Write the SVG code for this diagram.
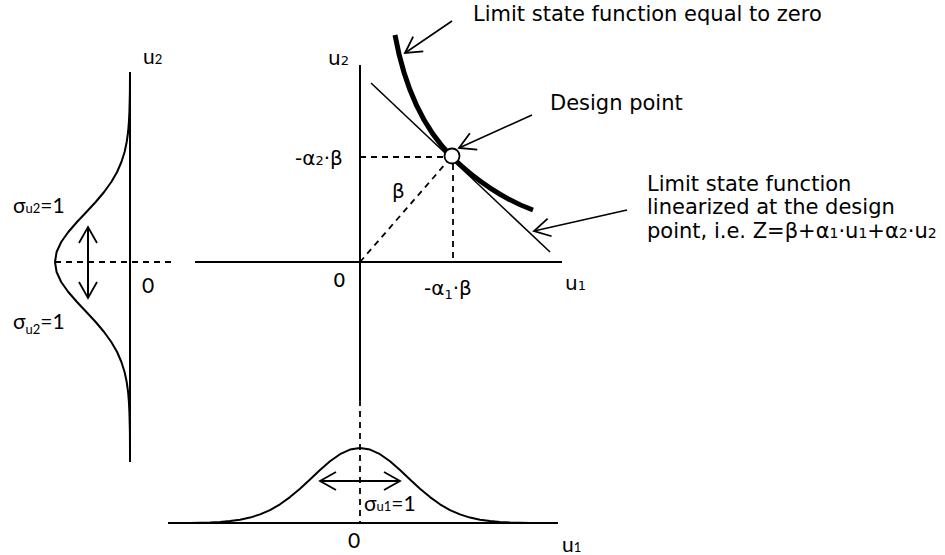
<svg xmlns="http://www.w3.org/2000/svg" width="945" height="555" viewBox="0 0 945 555">
<style>
.t{font-family:"DejaVu Sans",Verdana,sans-serif;font-size:21px;fill:#000}
.m{font-family:"DejaVu Sans",Verdana,sans-serif;font-size:20px;fill:#000}
.c{font-family:Lato,"Open Sans",sans-serif;font-size:21px;fill:#000}
.s{font-size:13px}
.ps{font-size:14px}
.ax{stroke:#000;stroke-width:2;fill:none}
.crv{stroke:#000;stroke-width:2;fill:none;stroke-linejoin:round}
.thin{stroke:#000;stroke-width:1.6;fill:none}
.dash{stroke:#000;stroke-width:1.8;fill:none;stroke-dasharray:6 5}
</style>
<defs>
<marker id="ah" viewBox="-20 -11 22 22" refX="0" refY="0" markerWidth="22" markerHeight="22" markerUnits="userSpaceOnUse" orient="auto-start-reverse">
<path d="M-16,-9 L0,0 L-16,9" fill="none" stroke="#000" stroke-width="1.8"/>
</marker>
</defs>
<rect width="945" height="555" fill="#fff"/>
<g id="connectors">
<line x1="452" y1="21" x2="405" y2="53" class="thin" marker-end="url(#ah)"/>
<line x1="532" y1="115" x2="459" y2="148" class="thin" marker-end="url(#ah)"/>
<line x1="627" y1="210" x2="534" y2="231" class="thin" marker-end="url(#ah)"/>
<line x1="88" y1="227" x2="88" y2="298" class="ax" marker-start="url(#ah)" marker-end="url(#ah)"/>
<line x1="320" y1="481" x2="400" y2="481" class="ax" marker-start="url(#ah)" marker-end="url(#ah)"/>
</g>
<g id="left-distribution">
<line x1="130" y1="72" x2="130" y2="462" class="ax"/>
<path class="crv" d="M130,72 L129.9,92 L129.4,112 L128.9,122 L128.1,132 L126.7,142 L124.6,152 L121.4,162 L117.1,172 L111.3,182 L104.1,192 L95.7,202 L86.4,212 L77,222 L68.3,232 L61.2,242 L56.6,252 L55,262 L56.6,272 L61.2,282 L68.3,292 L77,302 L86.4,312 L95.7,322 L104.1,332 L111.3,342 L117.1,352 L121.4,362 L124.6,372 L126.7,382 L128.1,392 L128.9,402 L129.4,412 L129.9,432 L130,452"/>
<line x1="55" y1="262" x2="172" y2="262" class="dash"/>
<text x="143" y="64" class="c">u<tspan class="s">2</tspan></text>
<text x="142" y="293" class="c">0</text>
<text x="13" y="213" class="c">σ<tspan class="s">u2</tspan>=1</text>
<text x="13" y="329" class="c">σ<tspan class="s" dy="5">u2</tspan><tspan dy="-5">=1</tspan></text>
</g>
<g id="bottom-distribution">
<line x1="168" y1="523" x2="558" y2="523" class="ax"/>
<path class="crv" d="M170,523 L190,522.9 L210,522.4 L220,521.9 L230,521.1 L240,519.7 L250,517.6 L260,514.4 L270,510.1 L280,504.3 L290,497.1 L300,488.7 L310,479.4 L320,470 L330,461.3 L340,454.2 L350,449.6 L360,448 L370,449.6 L380,454.2 L390,461.3 L400,470 L410,479.4 L420,488.7 L430,497.1 L440,504.3 L450,510.1 L460,514.4 L470,517.6 L480,519.7 L490,521.1 L500,521.9 L510,522.4 L530,522.9 L550,523"/>
<text x="348" y="548" class="c">0</text>
<text x="562" y="552" class="c">u<tspan class="s">1</tspan></text>
<text x="364" y="511" class="c">σ<tspan class="s">u1</tspan>=1</text>
</g>
<g id="main-axes">
<line x1="360" y1="65" x2="360" y2="400" class="ax"/>
<line x1="360" y1="400" x2="360" y2="523" class="dash"/>
<line x1="195" y1="262" x2="562" y2="262" class="ax"/>
<text x="328" y="65" class="m">u<tspan class="s">2</tspan></text>
<text x="333" y="287" class="m">0</text>
<text x="565" y="290" class="m">u<tspan class="s">1</tspan></text>
</g>
<g id="design-geometry">
<line x1="360" y1="157" x2="445" y2="157" class="dash"/>
<line x1="453" y1="164" x2="453" y2="262" class="dash"/>
<line x1="360" y1="262" x2="447" y2="162" class="dash"/>
<text x="295" y="165" class="m">-α<tspan class="s">2</tspan>·β</text>
<text x="392" y="198" class="m">β</text>
<text x="424" y="295" class="m">-α<tspan class="s" dy="4">1</tspan><tspan dy="-4">·β</tspan></text>
</g>
<g id="linearized-line">
<line x1="371" y1="83" x2="550" y2="252" class="thin"/>
</g>
<g id="limit-state-curve">
<path d="M395,35 C405,90 425,130 452,157 C475,180 505,200 533,210" fill="none" stroke="#000" stroke-width="5"/>
</g>
<g id="design-point">
<circle cx="452" cy="156" r="7.5" fill="#fff" stroke="#000" stroke-width="1.8"/>
</g>
<g id="label-limit-state">
<text x="473" y="21" class="t">Limit state function equal to zero</text>
</g>
<g id="label-design-point">
<text x="550" y="110" class="t">Design point</text>
</g>
<g id="label-linearized">
<text x="647" y="191" class="t">Limit state function</text>
<text x="647" y="214" class="t">linearized at the design</text>
<text x="647" y="238" class="t">point, i.e. Z=β+α<tspan class="ps">1</tspan>·u<tspan class="ps">1</tspan>+α<tspan class="ps">2</tspan>·u<tspan class="ps">2</tspan></text>
</g>
</svg>
